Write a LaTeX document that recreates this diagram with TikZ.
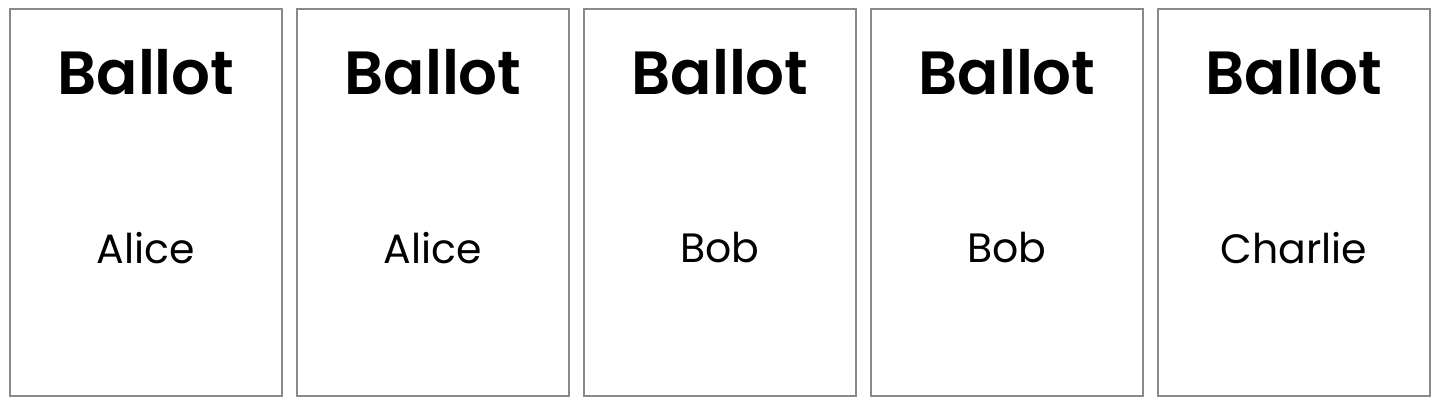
\documentclass[tikz,border=0pt]{standalone}
\usepackage{fontspec}
\setmainfont{Poppins}
\newfontfamily\headfont{Poppins SemiBold}
\usepackage{tikz}
\definecolor{gray450}{HTML}{8A8A8A}
\tikzstyle{ballot}=[draw=gray450, line width=1.5pt, minimum width=272pt, minimum height=387pt, inner sep=0pt]
\tikzstyle{heading}=[font=\fontsize{61}{61}\selectfont\headfont, inner sep=0pt]
\tikzstyle{vote}=[font=\fontsize{41}{41}\selectfont, inner sep=0pt]

\begin{document}
\begin{tikzpicture}[x=1pt, y=-1pt]
			\useasboundingbox (0,0) rectangle (1445,412);
			\node[ballot] (b1) at (146,202.5) {};
			\node[ballot] (b2) at (433,202.5) {};
			\node[ballot] (b3) at (720,202.5) {};
			\node[ballot] (b4) at (1007,202.5) {};
			\node[ballot] (b5) at (1294,202.5) {};
			\node[heading] (h1) at (146,72) {Ballot};
			\node[heading] (h2) at (433,72) {Ballot};
			\node[heading] (h3) at (720,72) {Ballot};
			\node[heading] (h4) at (1007,72) {Ballot};
			\node[heading] (h5) at (1294,72) {Ballot};
			\node[vote] (v1) at (146,248) {Alice};
			\node[vote] (v2) at (433,248) {Alice};
			\node[vote] (v3) at (720,248) {Bob};
			\node[vote] (v4) at (1007,248) {Bob};
			\node[vote] (v5) at (1294,248) {Charlie};
		\end{tikzpicture}
\end{document}
